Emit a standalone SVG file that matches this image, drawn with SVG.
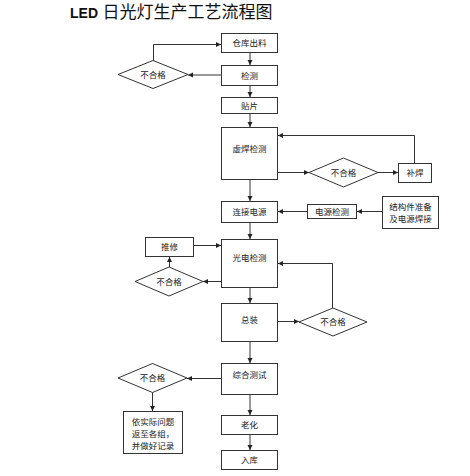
<svg xmlns="http://www.w3.org/2000/svg" width="470" height="476" viewBox="0 0 470 476">
<style>
.n{fill:#fff;stroke:#333;stroke-width:1}
.t{font-family:"Noto Sans CJK SC","Liberation Serif",serif;font-size:8.5px;fill:#222;text-anchor:middle}
.c{fill:none;stroke:#333;stroke-width:1}
</style>
<defs>
<marker id="a" markerUnits="userSpaceOnUse" markerWidth="6" markerHeight="6" refX="5" refY="3" orient="auto">
<path d="M0,0.5 L5,3 L0,5.5 Z" fill="#222"/>
</marker>
</defs>
<rect width="470" height="476" fill="#fff"/>
<text x="70" y="17.5" font-family="'Liberation Sans','Noto Sans CJK SC',sans-serif" font-size="17" fill="#111"><tspan font-size="14" font-weight="bold">LED</tspan><tspan x="102.5">日光灯生产工艺流程图</tspan></text>

<g id="n1"><rect class="n" x="221.5" y="33.5" width="56" height="19"/><text class="t" x="249.5" y="46">仓库出料</text></g>
<g id="n2"><rect class="n" x="221.5" y="65.5" width="56" height="20"/><text class="t" x="249.5" y="78.5">检测</text></g>
<g id="d1"><polygon class="n" points="118,74.5 153,60.5 188,74.5 153,88.5"/><text class="t" x="153" y="77.5">不合格</text></g>
<g id="n3"><rect class="n" x="221.5" y="97.5" width="56" height="16"/><text class="t" x="249.5" y="108.5">贴片</text></g>
<g id="n4"><rect class="n" x="221.5" y="127.5" width="56" height="52"/><text class="t" x="249.5" y="152">虚焊检测</text></g>
<g id="d2"><polygon class="n" points="309,172.5 343.5,158 378,172.5 343.5,187"/><text class="t" x="343.5" y="175.5">不合格</text></g>
<g id="n5"><rect class="n" x="398.5" y="163.5" width="33" height="19"/><text class="t" x="415" y="176">补焊</text></g>
<g id="n6"><rect class="n" x="221.5" y="201.5" width="56" height="21"/><text class="t" x="249.5" y="214.5">连接电源</text></g>
<g id="n7"><rect class="n" x="307.5" y="204.5" width="49" height="14"/><text class="t" x="332" y="214.5">电源检测</text></g>
<g id="n8"><rect class="n" x="382.5" y="196.5" width="56" height="32"/><text class="t" x="410.5" y="209.5">结构件准备</text><text class="t" x="410.5" y="221.5">及电源焊接</text></g>
<g id="n9"><rect class="n" x="221.5" y="239.5" width="56" height="48"/><text class="t" x="249.5" y="261">光电检测</text></g>
<g id="n10"><rect class="n" x="145.5" y="237.5" width="48" height="19"/><text class="t" x="169.5" y="250">推修</text></g>
<g id="d3"><polygon class="n" points="135,281.5 169,267 203,281.5 169,296"/><text class="t" x="169" y="284.5">不合格</text></g>
<g id="n11"><rect class="n" x="221.5" y="303.5" width="56" height="38"/><text class="t" x="249.5" y="323">总装</text></g>
<g id="d4"><polygon class="n" points="299,322 333,308 367,322 333,336"/><text class="t" x="333" y="325">不合格</text></g>
<g id="n12"><rect class="n" x="221.5" y="363.5" width="56" height="31"/><text class="t" x="249.5" y="378">综合测试</text></g>
<g id="d5"><polygon class="n" points="118,378 152.5,363.5 187,378 152.5,392.5"/><text class="t" x="152.5" y="381">不合格</text></g>
<g id="n13"><rect class="n" x="123.5" y="411.5" width="59" height="42"/><text class="t" x="153" y="425">依实际问题</text><text class="t" x="153" y="436.5">返至各组，</text><text class="t" x="153" y="448.5">并做好记录</text></g>
<g id="n14"><rect class="n" x="221.5" y="415.5" width="56" height="19"/><text class="t" x="249.5" y="428">老化</text></g>
<g id="n15"><rect class="n" x="221.5" y="450.5" width="56" height="19"/><text class="t" x="249.5" y="463">入库</text></g>

<g id="connectors" marker-end="url(#a)">
<path class="c" d="M250,53 V65"/>
<path class="c" d="M221,75 H188"/>
<path class="c" d="M153.5,60.5 V44.5 H221"/>
<path class="c" d="M250,86 V97"/>
<path class="c" d="M250,114 V127"/>
<path class="c" d="M278,172.5 H309"/>
<path class="c" d="M378,172.5 H398"/>
<path class="c" d="M414.5,163 V135.5 H278"/>
<path class="c" d="M250,180 V201"/>
<path class="c" d="M307,211.5 H278"/>
<path class="c" d="M382,211.5 H357"/>
<path class="c" d="M250,223 V239"/>
<path class="c" d="M194,245.5 H221"/>
<path class="c" d="M221,281.5 H203"/>
<path class="c" d="M169.5,267 V257"/>
<path class="c" d="M250,288 V303"/>
<path class="c" d="M278,321.5 H299"/>
<path class="c" d="M332.5,308 V263.5 H278"/>
<path class="c" d="M250,342 V363"/>
<path class="c" d="M221,378.5 H187"/>
<path class="c" d="M152.5,392.5 V411"/>
<path class="c" d="M250,395 V415"/>
<path class="c" d="M250,435 V450"/>
</g>
</svg>
